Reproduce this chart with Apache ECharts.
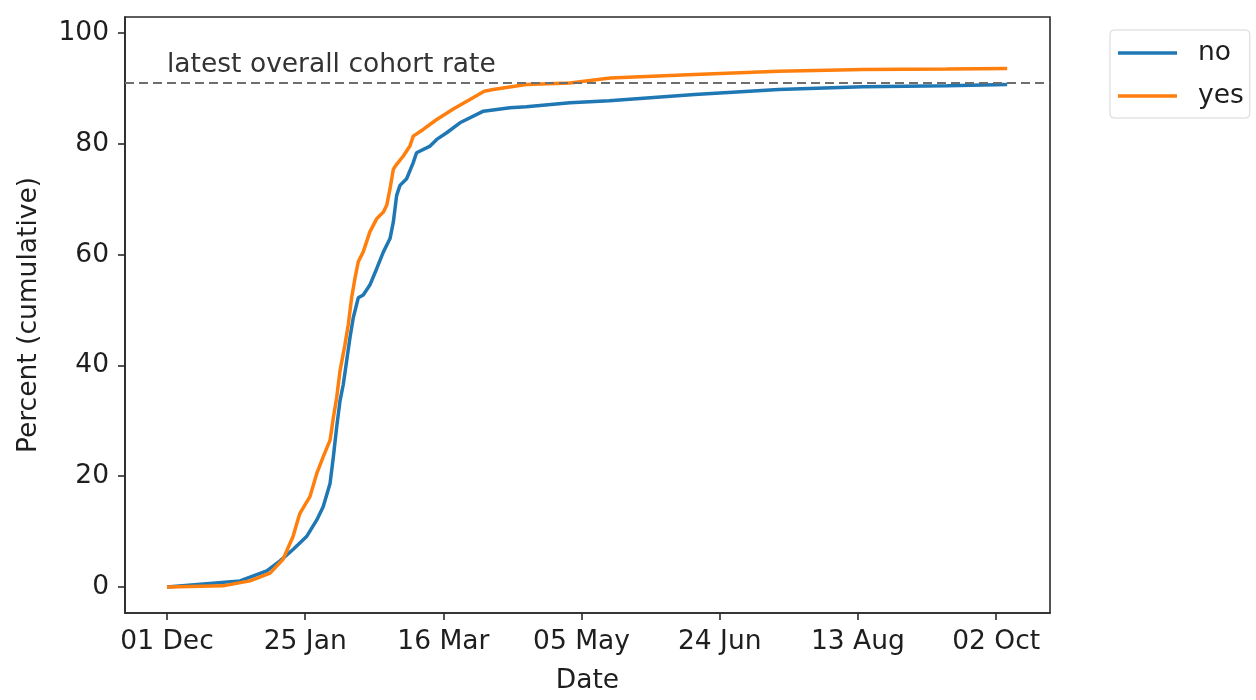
<!DOCTYPE html>
<html>
<head>
<meta charset="utf-8">
<script src="https://cdn.jsdelivr.net/npm/echarts@6/dist/echarts.min.js"></script>
<style>
html,body{margin:0;padding:0;background:#fff;}
#chart{width:1256px;height:700px;}
</style>
</head>
<body>
<div id="chart"></div>
<script>
// x positions are day offsets from the first tick date (01 Dec)
const tickDays = [0, 50, 100, 150, 200, 250, 300];
const tickLabels = ['01 Dec', '25 Jan', '16 Mar', '05 May', '24 Jun', '13 Aug', '02 Oct'];
const yTicks = [0, 20, 40, 60, 80, 100];

const noDays = [0, 14.4, 26.4, 36.1, 40.9, 45.7, 50.5, 54.2, 56.5, 59.0, 60.2, 61.4, 62.6, 63.8, 65.0, 66.2, 67.4, 69.2, 71.0, 73.4, 75.9, 78.3, 80.7, 81.9, 83.1, 84.3, 86.7, 89.1, 90.3, 95.2, 97.6, 101.2, 106.0, 114.5, 124.1, 130.0, 145.8, 160, 190.9, 221.3, 251.8, 282.2, 304];
const noVals = [0, 0.6, 1.1, 2.9, 4.7, 6.8, 9.1, 12.1, 14.5, 18.7, 23.5, 28.9, 33.6, 36.6, 40.8, 45.0, 48.6, 52.2, 52.7, 54.5, 57.5, 60.5, 62.9, 65.9, 70.7, 72.5, 73.7, 76.6, 78.4, 79.6, 80.8, 82.0, 83.8, 85.9, 86.5, 86.7, 87.4, 87.8, 88.9, 89.8, 90.3, 90.5, 90.7];

const yesDays = [0, 20.3, 30, 37.3, 42, 45.6, 47.4, 48.1, 51.7, 54.2, 56.5, 59.0, 60.2, 61.4, 62.6, 64.4, 65.6, 66.8, 68.0, 69.2, 71.0, 73.4, 75.9, 78.3, 79.5, 80.7, 81.9, 83.1, 85.5, 87.9, 89.1, 92.7, 97.6, 103.6, 109.6, 114.8, 118, 130, 145.8, 160.4, 190.9, 221.3, 251.8, 282.2, 304];
const yesVals = [0, 0.2, 1.1, 2.5, 5.0, 9.1, 12.2, 13.3, 16.3, 20.5, 23.5, 26.5, 30.6, 34.2, 39.0, 43.8, 47.4, 52.2, 55.7, 58.7, 60.5, 64.1, 66.5, 67.7, 68.9, 71.9, 75.4, 76.3, 77.8, 79.6, 81.4, 82.6, 84.4, 86.3, 88.0, 89.5, 89.8, 90.7, 91.0, 91.9, 92.5, 93.1, 93.4, 93.5, 93.6];

const overallRate = 91.1;
const annotationText = 'latest overall cohort rate';
const annotationPos = [0, 91.8];

const FONT = 'DejaVu Sans';
const FS = 26.5;
const TXT = '#1e1e1e';

const chart = echarts.init(document.getElementById('chart'), null, {renderer: 'canvas'});
const zip = (a, b) => a.map((d, i) => [d, b[i]]);

chart.setOption({
  animation: false,
  backgroundColor: '#fff',
  textStyle: {fontFamily: FONT},
  grid: {left: 125, right: 206, top: 17, bottom: 83, show: true, borderColor: '#2a2a2a', borderWidth: 1.6, backgroundColor: 'transparent'},
  legend: {
    data: ['no', 'yes'],
    left: 1110, top: 30,
    orient: 'vertical',
    icon: 'rect',
    itemWidth: 59, itemHeight: 3.5,
    itemGap: 13,
    padding: [8, 6, 7, 8],
    borderColor: '#d6d6d6', borderWidth: 1, borderRadius: 4,
    backgroundColor: 'rgba(255,255,255,0.8)',
    textStyle: {fontFamily: FONT, fontSize: FS, color: TXT, lineHeight: 30, padding: [0, 0, 0, 16]}
  },
  xAxis: {
    type: 'value', min: -15.2, max: 319.5,
    name: 'Date', nameLocation: 'middle', nameGap: 55,
    nameTextStyle: {fontFamily: FONT, fontSize: FS, color: TXT},
    axisLine: {show: true, onZero: false, lineStyle: {color: '#2a2a2a', width: 1.6}},
    axisTick: {show: true, length: 7, lineStyle: {color: '#2a2a2a', width: 1.6}, customValues: tickDays},
    axisLabel: {margin: 16, fontFamily: FONT, fontSize: FS, color: TXT, customValues: tickDays,
      formatter: v => { const i = tickDays.indexOf(Math.round(v)); return i >= 0 ? tickLabels[i] : ''; }},
    splitLine: {show: false}
  },
  yAxis: {
    type: 'value', min: -4.7, max: 102.9,
    name: 'Percent (cumulative)', nameLocation: 'middle', nameGap: 82,
    nameTextStyle: {fontFamily: FONT, fontSize: FS, color: TXT},
    axisLine: {show: true, onZero: false, lineStyle: {color: '#2a2a2a', width: 1.6}},
    axisTick: {show: true, length: 7, lineStyle: {color: '#2a2a2a', width: 1.6}, customValues: yTicks},
    axisLabel: {margin: 16, fontFamily: FONT, fontSize: FS, color: TXT, customValues: yTicks},
    splitLine: {show: false}
  },
  series: [
    {
      name: 'no', type: 'line', data: zip(noDays, noVals), symbol: 'none',
      lineStyle: {color: '#1f77b4', width: 3.5}, itemStyle: {color: '#1f77b4'},
      markLine: {
        silent: true, symbol: 'none', label: {show: false},
        lineStyle: {color: '#6e6e6e', type: [9, 5], width: 2},
        data: [{yAxis: overallRate}]
      },
      markPoint: {
        silent: true, symbol: 'circle', symbolSize: 0,
        label: {show: true, formatter: annotationText, position: 'right', distance: 0, align: 'left', verticalAlign: 'bottom',
          fontFamily: FONT, fontSize: FS, color: '#333'},
        data: [{coord: annotationPos}]
      }
    },
    {
      name: 'yes', type: 'line', data: zip(yesDays, yesVals), symbol: 'none',
      lineStyle: {color: '#ff7f0e', width: 3.5}, itemStyle: {color: '#ff7f0e'}
    }
  ]
});
</script>
</body>
</html>
